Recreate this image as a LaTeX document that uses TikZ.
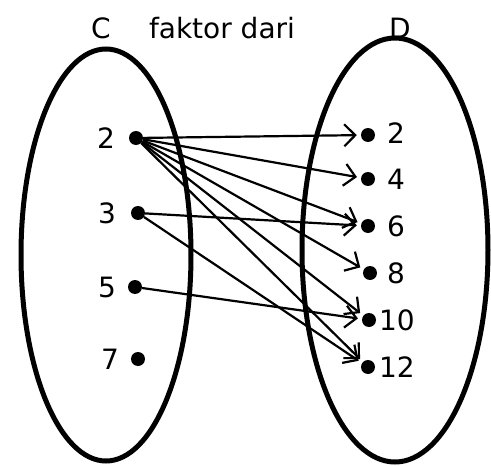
\documentclass[tikz,border=0pt]{standalone}
\usepackage{fontspec}
\setmainfont{DejaVu Sans}
\usetikzlibrary{arrows.meta,shapes.geometric}
\tikzset{
  setbox/.style={draw,ellipse,line width=5pt,inner sep=0pt},
  elem/.style={circle,fill,inner sep=0pt,minimum size=14pt},
  num/.style={font=\fontsize{28}{32}\selectfont,inner sep=0pt},
  maps/.style={-{Straight Barb[length=11pt,width=22pt,line width=2.2pt]},
    line width=2.2pt,shorten >=4pt},
}

\begin{document}
\begin{tikzpicture}[x=1pt,y=-1pt]
\useasboundingbox (0,0) rectangle (491,466);
% the two sets
\node[setbox,minimum width=170,minimum height=412] (setC) at (106,255) {};
\node[setbox,minimum width=186,minimum height=424] (setD) at (395,250) {};
\node[num] (tC) at (101,28) {C};
\node[num] (rel) at (222,28) {faktor dari};
\node[num] (tD) at (400,28) {D};

% domain C
\node[elem] (c2) at (136,138) {};
\node[elem] (c3) at (138,213) {};
\node[elem] (c5) at (135,287) {};
\node[elem] (c7) at (138,359) {};
\node[num] (lc2) at (106,138) {2};
\node[num] (lc3) at (107,213) {3};
\node[num] (lc5) at (107,287) {5};
\node[num] (lc7) at (110,359) {7};

% codomain D
\node[elem] (d2)  at (368,135) {};
\node[elem] (d4)  at (368,179) {};
\node[elem] (d6)  at (368,226) {};
\node[elem] (d8)  at (370,273) {};
\node[elem] (d10) at (369,320) {};
\node[elem] (d12) at (368,367) {};
\node[num] (ld2)  at (396,133) {2};
\node[num] (ld4)  at (396,179) {4};
\node[num] (ld6)  at (396,226) {6};
\node[num] (ld8)  at (396,273) {8};
\node[num] (ld10) at (397,320) {10};
\node[num] (ld12) at (397,367) {12};

% pairs
\foreach \y in {2,4,6,8,10,12}
  \draw[maps] (c2) -- (d\y);
\draw[maps] (c3) -- (d6);
\draw[maps] (c3) -- (d12);
\draw[maps] (c5) -- (d10);
\end{tikzpicture}
\end{document}
